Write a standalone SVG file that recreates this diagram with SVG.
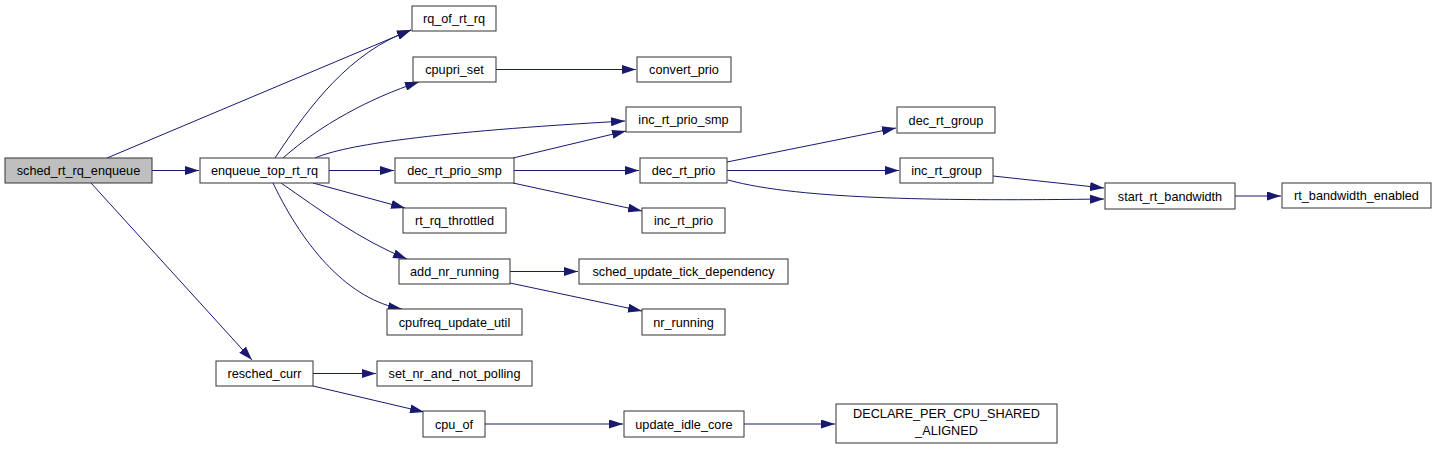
<svg xmlns="http://www.w3.org/2000/svg" width="1436" height="450" viewBox="0 0 1436 450">
<style>
.n rect{fill:#ffffff;stroke:#333333;stroke-width:1}
.n.root rect{fill:#bfbfbf}
.n text{font-family:"Liberation Sans",Arial,sans-serif;font-size:12.7px;fill:#000000;text-anchor:middle}
.e path{fill:none;stroke:#191970;stroke-width:1;marker-end:url(#ah)}
</style>
<defs>
<marker id="ah" viewBox="0 0 14 9" refX="14" refY="4.5" markerWidth="14" markerHeight="9" markerUnits="userSpaceOnUse" orient="auto">
<path d="M0,0 L14,4.5 L0,9 Z" fill="#191970"/>
</marker>
</defs>
<rect width="1436" height="450" fill="#ffffff"/>
<g id="edges" class="e">
<path d="M107,158 L411,30"/>
<path d="M152,170.5 L199,170.5"/>
<path d="M91,183 L252,360"/>
<path d="M275,158 C310,105 350,52 411,30"/>
<path d="M283,158 C320,125 370,98 419,82"/>
<path d="M315,158 C345,145 430,132 625,121"/>
<path d="M329,170.5 L394,170.5"/>
<path d="M313,183 L405,208"/>
<path d="M281,183 C320,210 360,240 407,259"/>
<path d="M273,183 C305,250 350,300 402,309"/>
<path d="M496,69.5 L636,69.5"/>
<path d="M513,158 L626,131"/>
<path d="M514,170.5 L639,170.5"/>
<path d="M513,183 L642,211"/>
<path d="M727,162 L896,128"/>
<path d="M727,170.5 L899,170.5"/>
<path d="M728,180 C800,200 950,201 1104,199"/>
<path d="M993,176 L1104,188"/>
<path d="M1235,196 L1281,196"/>
<path d="M510,271.5 L578,271.5"/>
<path d="M510,283 L642,311"/>
<path d="M313,373.5 L376,373.5"/>
<path d="M313,386 L424,412"/>
<path d="M485,424 L623,424"/>
<path d="M744,424 L835,424"/>
</g>
<g id="sched_rt_rq_enqueue" class="n root"><rect x="5" y="158" width="147" height="25"/><text x="78.5" y="175">sched_rt_rq_enqueue</text></g>
<g id="enqueue_top_rt_rq" class="n"><rect x="200" y="158" width="129" height="25"/><text x="264.5" y="175">enqueue_top_rt_rq</text></g>
<g id="resched_curr" class="n"><rect x="216" y="361" width="97" height="25"/><text x="264.5" y="378">resched_curr</text></g>
<g id="rq_of_rt_rq" class="n"><rect x="412" y="6" width="84" height="25"/><text x="454" y="23">rq_of_rt_rq</text></g>
<g id="cpupri_set" class="n"><rect x="413" y="57" width="83" height="25"/><text x="454.5" y="74">cpupri_set</text></g>
<g id="convert_prio" class="n"><rect x="637" y="57" width="94" height="25"/><text x="684" y="74">convert_prio</text></g>
<g id="inc_rt_prio_smp" class="n"><rect x="626" y="107" width="115" height="25"/><text x="683.5" y="124">inc_rt_prio_smp</text></g>
<g id="dec_rt_prio_smp" class="n"><rect x="395" y="158" width="119" height="25"/><text x="454.5" y="175">dec_rt_prio_smp</text></g>
<g id="dec_rt_prio" class="n"><rect x="640" y="158" width="87" height="25"/><text x="683.5" y="175">dec_rt_prio</text></g>
<g id="rt_rq_throttled" class="n"><rect x="403" y="208" width="103" height="25"/><text x="454.5" y="225">rt_rq_throttled</text></g>
<g id="inc_rt_prio" class="n"><rect x="642" y="208" width="83" height="25"/><text x="683.5" y="225">inc_rt_prio</text></g>
<g id="add_nr_running" class="n"><rect x="399" y="259" width="111" height="25"/><text x="454.5" y="276">add_nr_running</text></g>
<g id="sched_update_tick_dependency" class="n"><rect x="579" y="259" width="209" height="25"/><text x="683.5" y="276">sched_update_tick_dependency</text></g>
<g id="cpufreq_update_util" class="n"><rect x="387" y="309" width="135" height="26"/><text x="454.5" y="327">cpufreq_update_util</text></g>
<g id="nr_running" class="n"><rect x="642" y="309" width="83" height="26"/><text x="683.5" y="327">nr_running</text></g>
<g id="set_nr_and_not_polling" class="n"><rect x="377" y="361" width="155" height="25"/><text x="454.5" y="378">set_nr_and_not_polling</text></g>
<g id="cpu_of" class="n"><rect x="423" y="411" width="62" height="26"/><text x="454" y="429">cpu_of</text></g>
<g id="update_idle_core" class="n"><rect x="624" y="411" width="120" height="26"/><text x="684" y="429">update_idle_core</text></g>
<g id="DECLARE_PER_CPU_SHARED_ALIGNED" class="n"><rect x="836" y="404" width="221" height="39"/><text x="946.5" y="418">DECLARE_PER_CPU_SHARED</text><text x="946.5" y="435">_ALIGNED</text></g>
<g id="dec_rt_group" class="n"><rect x="897" y="107" width="98" height="26"/><text x="946" y="125">dec_rt_group</text></g>
<g id="inc_rt_group" class="n"><rect x="900" y="158" width="93" height="25"/><text x="946.5" y="175">inc_rt_group</text></g>
<g id="start_rt_bandwidth" class="n"><rect x="1105" y="183" width="130" height="26"/><text x="1170" y="201">start_rt_bandwidth</text></g>
<g id="rt_bandwidth_enabled" class="n"><rect x="1282" y="183" width="149" height="25"/><text x="1356.5" y="200">rt_bandwidth_enabled</text></g>
</svg>
